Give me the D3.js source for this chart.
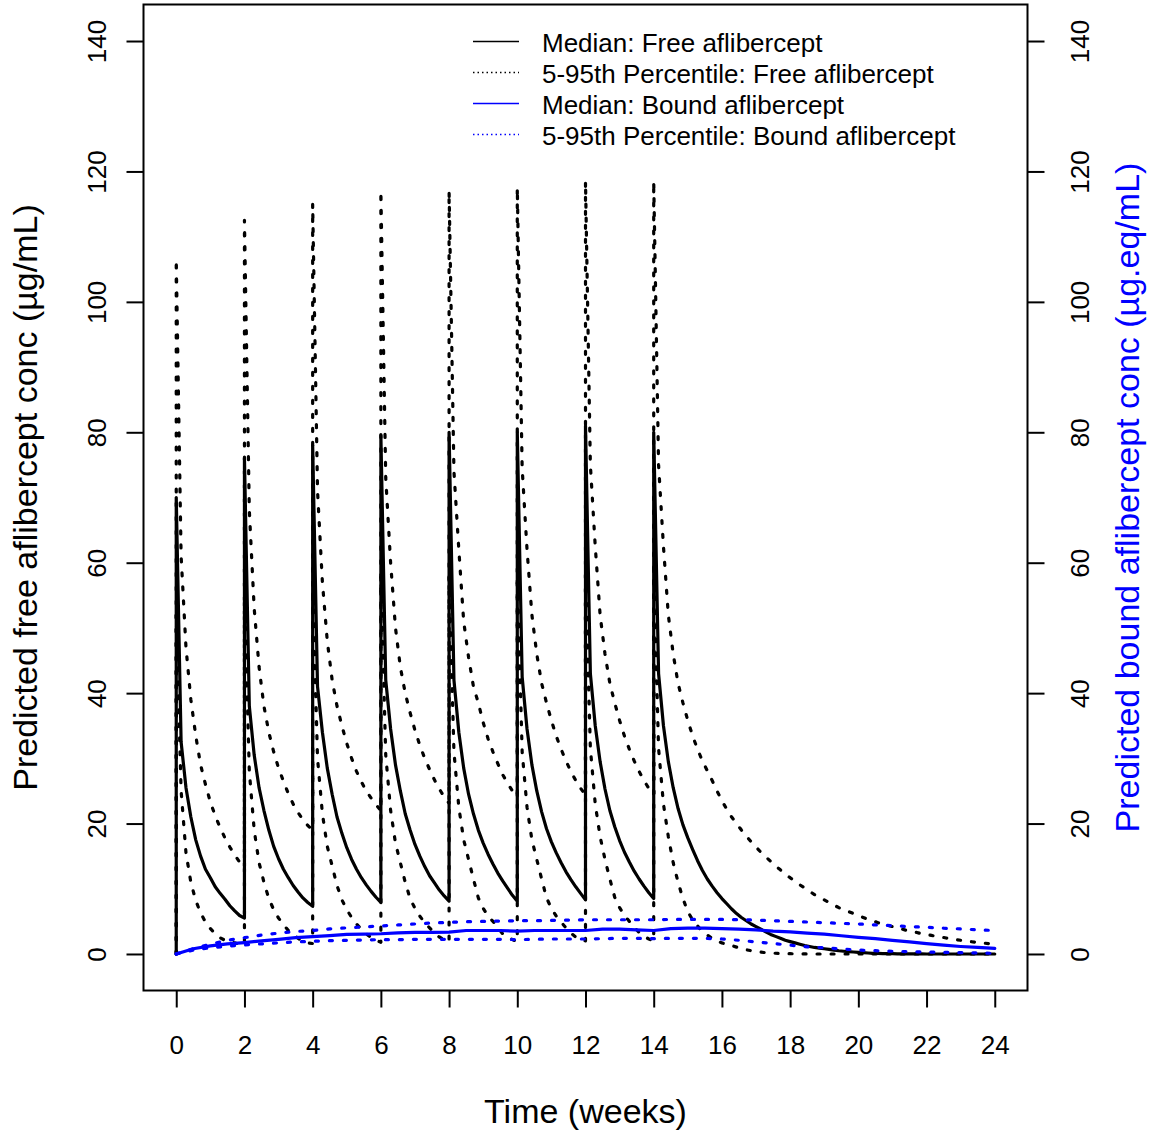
<!DOCTYPE html>
<html>
<head>
<meta charset="utf-8">
<script src="https://cdn.jsdelivr.net/npm/d3@7"></script>
<style>
  html, body { margin: 0; padding: 0; background: #fff; }
  svg { display: block; }
  text { font-family: "Liberation Sans", Arial, sans-serif; }
</style>
</head>
<body>
<svg id="chart" width="1151" height="1133"></svg>
<script>
// ---------------- data ----------------
const doseWeeks = [0, 2, 4, 6, 8, 10, 12, 14];
const xTicks = [0, 2, 4, 6, 8, 10, 12, 14, 16, 18, 20, 22, 24];
const yTicks = [0, 20, 40, 60, 80, 100, 120, 140];

// Free aflibercept, daily values after each dose (day 0 .. day 14; last interval to day 70)
const medianFree = [
  [70, 32.5, 25.5, 21, 17.5, 15, 13, 11.7, 10.3, 9.3, 8.4, 7.4, 6.6, 5.9, 5.5],
  [76, 38, 30.5, 25.5, 22, 19, 16.5, 14.6, 13, 11.7, 10.5, 9.5, 8.6, 7.9, 7.3],
  [78, 41, 34, 28.5, 24.5, 21, 18.5, 16.3, 14.5, 13, 11.7, 10.6, 9.6, 8.7, 7.9],
  [79.5, 42, 34.5, 29, 25, 21.5, 19, 16.8, 15, 13.4, 12, 10.9, 9.8, 8.9, 8.1],
  [80, 42, 34, 28.5, 24.5, 21.5, 19, 17, 15.3, 13.8, 12.4, 11.2, 10.1, 9, 8.1],
  [80, 42.5, 34.5, 29, 25, 21.8, 19.2, 17.2, 15.5, 14, 12.6, 11.4, 10.3, 9.3, 8.3],
  [81, 43, 35, 29.5, 25.3, 22, 19.5, 17.4, 15.6, 14.1, 12.7, 11.5, 10.4, 9.4, 8.5],
  [80, 43, 35, 29.5, 25.5, 22.3, 19.8, 17.8, 16, 14.3, 12.8, 11.5, 10.4, 9.4, 8.5,
   7.7, 6.9, 6.2, 5.6, 5.1, 4.6, 4.2, 3.8, 3.4, 3.0, 2.7, 2.4, 2.1, 1.9, 1.7,
   1.5, 1.3, 1.15, 1.0, 0.9, 0.8, 0.7, 0.6, 0.5, 0.42, 0.35, 0.3, 0.25, 0.2, 0.15,
   0.1, 0.08, 0.06, 0.05, 0.04, 0.03, 0.02, 0.02, 0.01, 0.01, 0.01, 0, 0, 0, 0,
   0, 0, 0, 0, 0, 0, 0, 0, 0, 0, 0]
];
const p95Free = [
  [106.5, 61, 47, 39, 33.5, 29, 26, 23.3, 21.2, 19.4, 17.8, 16.4, 15.2, 14.1, 13.2],
  [112.5, 68, 53, 44, 38, 34, 31, 28.5, 26.5, 24.6, 23, 21.7, 20.6, 19.7, 19],
  [115, 71, 57, 48, 42, 38, 35, 32.3, 30, 28, 26.4, 25, 23.9, 22.9, 22],
  [117, 73, 60, 50, 44, 40, 37, 34.3, 32, 30, 28.3, 26.7, 25.3, 24.1, 23.1],
  [117, 74, 62, 51, 45.5, 41, 38.5, 35.5, 33, 31, 29.2, 27.5, 26.2, 25, 24],
  [117.5, 74.5, 62, 52, 46, 41.5, 38.5, 35.8, 33.4, 31.4, 29.6, 28, 26.6, 25.4, 24.4],
  [118.5, 75, 62.5, 52, 46, 41.5, 38.5, 35.8, 33.4, 31.4, 29.6, 28, 26.6, 25.4, 24.4],
  [118.5, 75, 62.5, 52, 46, 41.5, 38.5, 35.8, 33.4, 31.4, 29.6, 28.1, 26.6, 25, 23.5,
   22.2, 21, 20, 19, 18.1, 17.2, 16.4, 15.6, 14.9, 14.2, 13.5, 12.9, 12.2, 11.7, 11.1,
   10.6, 10.1, 9.6, 9.1, 8.7, 8.3, 7.9, 7.5, 7.1, 6.8, 6.5, 6.2, 5.9, 5.6, 5.3,
   5.1, 4.8, 4.6, 4.4, 4.2, 4.0, 3.8, 3.6, 3.45, 3.3, 3.1, 3.0, 2.85, 2.7, 2.6,
   2.45, 2.35, 2.2, 2.1, 2.0, 1.9, 1.8, 1.72, 1.65, 1.57, 1.5]
];
const p5Free = [
  [52, 25, 15.5, 11, 8.2, 6.3, 4.9, 3.9, 3.1, 2.5, 2.1, 1.9, 1.7, 1.5, 1.4],
  [55, 28, 19, 14, 11, 8.5, 6.8, 5.5, 4.5, 3.6, 3.0, 2.4, 2.0, 1.7, 1.6],
  [57, 30, 21.5, 16.5, 13.5, 10.5, 8.3, 6.8, 5.6, 4.6, 3.8, 3.1, 2.5, 2.1, 1.8],
  [58, 30.5, 22, 17, 14, 11, 8.5, 7, 5.8, 4.8, 4, 3.2, 2.6, 2.2, 1.9],
  [58, 31, 22.5, 17.5, 14.5, 11.5, 8.6, 7, 5.8, 5, 4, 3.1, 2.6, 2.2, 1.9],
  [58, 31, 22.5, 17.5, 14.5, 11.5, 8.6, 7, 5.8, 4.9, 4, 3.2, 2.6, 2.2, 2.0],
  [59, 31.5, 23, 18, 14.5, 11.5, 8.7, 7.1, 5.9, 5, 4.1, 3.3, 2.7, 2.3, 2.0],
  [59, 31.5, 23, 18, 14, 11, 8.5, 6.5, 5.2, 4.3, 3.4, 2.9, 2.4, 2.0, 1.7,
   1.5, 1.3, 1.05, 0.85, 0.65, 0.5, 0.38, 0.28, 0.2, 0.15, 0.11, 0.08, 0.06, 0.04, 0.03,
   0.02, 0.01, 0, 0, 0, 0, 0, 0, 0, 0, 0, 0, 0, 0, 0,
   0, 0, 0, 0, 0, 0, 0, 0, 0, 0, 0, 0, 0, 0, 0,
   0, 0, 0, 0, 0, 0, 0, 0, 0, 0, 0]
];

// Bound aflibercept, sampled every half week
const boundWeeks = [0, 0.5, 1, 1.5, 2, 2.5, 3, 3.5, 4, 4.5, 5, 5.5, 6, 6.5, 7, 7.5, 8, 8.5,
  9, 9.5, 10, 10.5, 11, 11.5, 12, 12.5, 13, 13.5, 14, 14.5, 15, 15.5, 16, 16.5, 17, 17.5,
  18, 18.5, 19, 19.5, 20, 20.5, 21, 21.5, 22, 22.5, 23, 23.5, 24];
const medianBound = [0, 0.8, 1.25, 1.55, 1.75, 2.0, 2.25, 2.5, 2.65, 2.8, 3.0, 3.05, 3.1, 3.25,
  3.3, 3.3, 3.35, 3.6, 3.6, 3.6, 3.5, 3.6, 3.6, 3.6, 3.6, 3.8, 3.8, 3.7, 3.6, 3.9, 3.95, 3.95,
  3.9, 3.8, 3.7, 3.5, 3.4, 3.2, 3.05, 2.8, 2.55, 2.35, 2.1, 1.85, 1.6, 1.35, 1.15, 1.0, 0.85];
const p95Bound = [0, 0.8, 1.5, 2.1, 2.5, 2.9, 3.2, 3.45, 3.6, 3.85, 4.0, 4.15, 4.3, 4.45, 4.6,
  4.75, 4.85, 4.95, 5.0, 5.05, 5.1, 5.1, 5.15, 5.2, 5.25, 5.25, 5.25, 5.25, 5.25, 5.3, 5.3, 5.3,
  5.3, 5.25, 5.2, 5.1, 5.0, 4.9, 4.8, 4.7, 4.6, 4.45, 4.35, 4.2, 4.1, 3.95, 3.85, 3.7, 3.6];
const p5Bound = [0, 0.6, 0.95, 1.2, 1.4, 1.55, 1.7, 1.85, 1.95, 2.05, 2.1, 2.15, 2.2, 2.2, 2.25,
  2.25, 2.25, 2.25, 2.25, 2.25, 2.2, 2.25, 2.3, 2.3, 2.3, 2.35, 2.4, 2.4, 2.35, 2.4, 2.4, 2.4,
  2.3, 2.1, 1.85, 1.6, 1.35, 1.1, 0.95, 0.78, 0.6, 0.5, 0.42, 0.36, 0.3, 0.25, 0.2, 0.15, 0.1];

const legendLabels = [
  "Median: Free aflibercept",
  "5-95th Percentile: Free aflibercept",
  "Median: Bound aflibercept",
  "5-95th Percentile: Bound aflibercept"
];

// ---------------- layout ----------------
const svg = d3.select("#chart");
const plot = { left: 143.5, right: 1027.5, top: 4.5, bottom: 990.5 };
const x = d3.scaleLinear().domain([-0.96, 24.96]).range([plot.left, plot.right]);
const y = d3.scaleLinear().domain([-5.6, 145.6]).range([plot.bottom, plot.top]);
const FONT = 26;

function freeSeries(intervals) {
  const pts = [{ t: 0, v: 0 }];
  intervals.forEach((vals, k) => {
    vals.forEach((v, d) => pts.push({ t: doseWeeks[k] + d / 7, v: v }));
  });
  return pts;
}
function boundSeries(vals) {
  return boundWeeks.map((t, i) => ({ t: t, v: vals[i] }));
}

const line = d3.line().x(d => x(d.t)).y(d => y(d.v));

const dotted = "3 11";
const series = [
  { data: freeSeries(p95Free), color: "#000", dash: dotted },
  { data: freeSeries(p5Free), color: "#000", dash: dotted },
  { data: freeSeries(medianFree), color: "#000", dash: null },
  { data: boundSeries(p95Bound), color: "#0000ff", dash: dotted },
  { data: boundSeries(p5Bound), color: "#0000ff", dash: dotted },
  { data: boundSeries(medianBound), color: "#0000ff", dash: null }
];

svg.append("defs").append("clipPath").attr("id", "clip")
  .append("rect")
  .attr("x", plot.left).attr("y", plot.top)
  .attr("width", plot.right - plot.left).attr("height", plot.bottom - plot.top);

const g = svg.append("g").attr("clip-path", "url(#clip)");
series.forEach(s => {
  g.append("path")
    .attr("d", line(s.data))
    .attr("fill", "none")
    .attr("stroke", s.color)
    .attr("stroke-width", 3.2)
    .attr("stroke-linejoin", "round")
    .attr("stroke-linecap", "round")
    .attr("stroke-dasharray", s.dash);
});

// box
svg.append("rect")
  .attr("x", plot.left).attr("y", plot.top)
  .attr("width", plot.right - plot.left).attr("height", plot.bottom - plot.top)
  .attr("fill", "none").attr("stroke", "#000").attr("stroke-width", 2);

// axes
const tickLen = 17;
const xAxis = svg.append("g")
  .attr("transform", `translate(0,${plot.bottom})`)
  .call(d3.axisBottom(x).tickValues(xTicks).tickFormat(d3.format("d"))
    .tickSize(tickLen).tickPadding(24));
const leftAxis = svg.append("g")
  .attr("transform", `translate(${plot.left},0)`)
  .call(d3.axisLeft(y).tickValues(yTicks).tickFormat(d3.format("d")).tickSize(tickLen));
const rightAxis = svg.append("g")
  .attr("transform", `translate(${plot.right},0)`)
  .call(d3.axisRight(y).tickValues(yTicks).tickFormat(d3.format("d")).tickSize(tickLen));

[xAxis, leftAxis, rightAxis].forEach(a => {
  a.select(".domain").remove();
  a.selectAll(".tick line").attr("stroke", "#000").attr("stroke-width", 2);
  a.selectAll(".tick text").attr("fill", "#000")
    .style("font-size", FONT + "px")
    .style("font-family", '"Liberation Sans", Arial, sans-serif');
});
xAxis.selectAll(".tick text").attr("dy", null).attr("y", 54 - 0).attr("dominant-baseline", "central");
leftAxis.selectAll(".tick text")
  .attr("x", null).attr("dy", null)
  .attr("text-anchor", "middle")
  .attr("dominant-baseline", "central")
  .attr("transform", `translate(${97 - plot.left},0) rotate(-90)`);
rightAxis.selectAll(".tick text")
  .attr("x", null).attr("dy", null)
  .attr("text-anchor", "middle")
  .attr("dominant-baseline", "central")
  .attr("transform", `translate(${1080 - plot.right},0) rotate(-90)`);

// axis titles
const midX = (plot.left + plot.right) / 2;
const midY = (plot.top + plot.bottom) / 2;
svg.append("text")
  .attr("x", midX).attr("y", 1111)
  .attr("text-anchor", "middle").attr("dominant-baseline", "central")
  .style("font-size", "34px").text("Time (weeks)");
svg.append("text")
  .attr("transform", `translate(25,${midY}) rotate(-90)`)
  .attr("text-anchor", "middle").attr("dominant-baseline", "central")
  .style("font-size", "34px").text("Predicted free aflibercept conc (µg/mL)");
svg.append("text")
  .attr("transform", `translate(1127,${midY}) rotate(-90)`)
  .attr("text-anchor", "middle").attr("dominant-baseline", "central")
  .attr("fill", "#0000ff")
  .style("font-size", "34px").text("Predicted bound aflibercept conc (µg.eq/mL)");

// legend
const legendColors = ["#000", "#000", "#0000ff", "#0000ff"];
const legendDash = [null, "1.5 3", null, "1.5 3"];
const leg = svg.append("g");
legendLabels.forEach((lab, i) => {
  const ly = 41.5 + i * 31;
  leg.append("line")
    .attr("x1", 473).attr("x2", 519).attr("y1", ly).attr("y2", ly)
    .attr("stroke", legendColors[i]).attr("stroke-width", 1.3)
    .attr("stroke-dasharray", legendDash[i]);
  leg.append("text")
    .attr("x", 542).attr("y", ly + 1)
    .attr("dominant-baseline", "central")
    .style("font-size", FONT + "px")
    .text(lab);
});
</script>
</body>
</html>
